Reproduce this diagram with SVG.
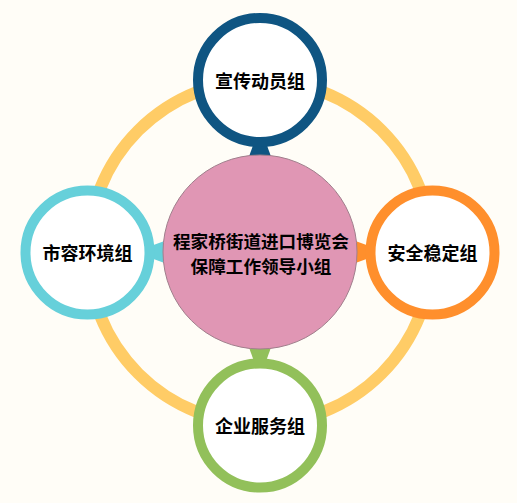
<svg xmlns="http://www.w3.org/2000/svg" width="517" height="503" viewBox="0 0 517 503">
<style>
.lbl{font-family:"Noto Sans CJK SC","Liberation Sans",sans-serif;font-weight:bold;fill:#000;text-anchor:middle}
.node{fill:#fff;stroke-width:10}
</style>
<rect width="517" height="503" fill="#FFFDF7"/>
<circle cx="260" cy="252" r="172" fill="none" stroke="#FFCC66" stroke-width="12"/>
<g id="connectors">
<polygon points="255,140 265,140 273,162 247,162" fill="#0F5582"/>
<polygon points="255,364 265,364 273,342 247,342" fill="#92C05A"/>
<polygon points="148,247 148,257 170,265 170,239" fill="#66D0DA"/>
<polygon points="372,247 372,257 350,265 350,239" fill="#FF8F2C"/>
</g>
<g id="center">
<circle cx="260" cy="252" r="97" fill="#E096B4" stroke="#A07F8C" stroke-width="1"/>
<text class="lbl" x="261" y="248" font-size="17.6">程家桥街道进口博览会</text>
<text class="lbl" x="261" y="273" font-size="17.6">保障工作领导小组</text>
</g>
<g id="node-top">
<circle class="node" cx="260" cy="80" r="62" stroke="#0F5582"/>
<text class="lbl" x="260" y="88" font-size="18">宣传动员组</text>
</g>
<g id="node-left">
<circle class="node" cx="87.5" cy="252.5" r="62" stroke="#66D0DA"/>
<text class="lbl" x="87.5" y="260" font-size="18">市容环境组</text>
</g>
<g id="node-right">
<circle class="node" cx="432.5" cy="252.5" r="62" stroke="#FF8F2C"/>
<text class="lbl" x="432.5" y="260" font-size="18">安全稳定组</text>
</g>
<g id="node-bottom">
<circle class="node" cx="260" cy="425.5" r="62" stroke="#92C05A"/>
<text class="lbl" x="260" y="433" font-size="18">企业服务组</text>
</g>
</svg>
